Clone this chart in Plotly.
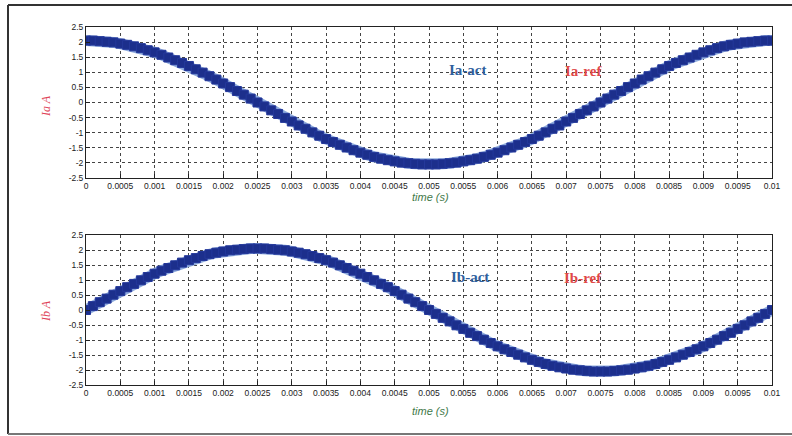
import plotly.graph_objects as go

# Sample times (s), one point every 0.1 ms over one 100 Hz period
time_s = [round(k * 0.0001, 4) for k in range(101)]

# Phase-a current (A)
ia_act = [2.05, 2.05, 2.03, 2.01, 1.99, 1.95, 1.91, 1.86, 1.80, 1.73, 1.66, 1.58, 1.49, 1.40, 1.31, 1.21, 1.10, 0.99, 0.87, 0.76, 0.63, 0.51, 0.38, 0.26, 0.13, 0.00,
          -0.13, -0.26, -0.38, -0.51, -0.63, -0.76, -0.87, -0.99, -1.10, -1.21, -1.31, -1.40, -1.49, -1.58, -1.66, -1.73, -1.80, -1.86, -1.91, -1.95, -1.99, -2.01, -2.03, -2.05, -2.05,
          -2.05, -2.03, -2.01, -1.99, -1.95, -1.91, -1.86, -1.80, -1.73, -1.66, -1.58, -1.49, -1.40, -1.31, -1.21, -1.10, -0.99, -0.87, -0.76, -0.63, -0.51, -0.38, -0.26, -0.13, 0.00,
          0.13, 0.26, 0.38, 0.51, 0.63, 0.76, 0.87, 0.99, 1.10, 1.21, 1.31, 1.40, 1.49, 1.58, 1.66, 1.73, 1.80, 1.86, 1.91, 1.95, 1.99, 2.01, 2.03, 2.05, 2.05]

# Phase-b current (A)
ib_act = [0.00, 0.13, 0.26, 0.38, 0.51, 0.63, 0.76, 0.87, 0.99, 1.10, 1.21, 1.31, 1.40, 1.49, 1.58, 1.66, 1.73, 1.80, 1.86, 1.91, 1.95, 1.99, 2.01, 2.03, 2.05, 2.05,
          2.05, 2.03, 2.01, 1.99, 1.95, 1.91, 1.86, 1.80, 1.73, 1.66, 1.58, 1.49, 1.40, 1.31, 1.21, 1.10, 0.99, 0.87, 0.76, 0.63, 0.51, 0.38, 0.26, 0.13, 0.00,
          -0.13, -0.26, -0.38, -0.51, -0.63, -0.76, -0.87, -0.99, -1.10, -1.21, -1.31, -1.40, -1.49, -1.58, -1.66, -1.73, -1.80, -1.86, -1.91, -1.95, -1.99, -2.01, -2.03, -2.05, -2.05,
          -2.05, -2.03, -2.01, -1.99, -1.95, -1.91, -1.86, -1.80, -1.73, -1.66, -1.58, -1.49, -1.40, -1.31, -1.21, -1.10, -0.99, -0.87, -0.76, -0.63, -0.51, -0.38, -0.26, -0.13, 0.00]

x_tickvals = [round(k * 0.0005, 4) for k in range(21)]
x_ticktext = ["0", "0.0005", "0.001", "0.0015", "0.002", "0.0025", "0.003", "0.0035", "0.004", "0.0045",
              "0.005", "0.0055", "0.006", "0.0065", "0.007", "0.0075", "0.008", "0.0085", "0.009", "0.0095", "0.01"]
y_tickvals = [2.5, 2, 1.5, 1, 0.5, 0, -0.5, -1, -1.5, -2, -2.5]
y_ticktext = ["2.5", "2", "1.5", "1", "0.5", "0", "-0.5", "-1", "-1.5", "-2", "-2.5"]

W, H = 792, 436
X_DOM = [86 / W, 772 / W]
TOP_DOM = [1 - 178 / H, 1 - 27 / H]
BOT_DOM = [1 - 385 / H, 1 - 235 / H]

fig = go.Figure()

def add_current(y, xa, ya):
    # light halo underneath, then the dark square markers on top
    fig.add_trace(go.Scatter(x=time_s, y=y, xaxis=xa, yaxis=ya, mode="lines",
                             line=dict(color="#8fabdd", width=11), hoverinfo="skip",
                             showlegend=False))
    fig.add_trace(go.Scatter(x=time_s, y=y, xaxis=xa, yaxis=ya, mode="lines+markers",
                             line=dict(color="#1c2f8c", width=6),
                             marker=dict(symbol="square", size=9, color="#1c2f8c",
                                         line=dict(color="#24389a", width=1)),
                             showlegend=False))

add_current(ia_act, "x", "y")
add_current(ib_act, "x2", "y2")

axis_common = dict(showline=True, linecolor="#222", linewidth=1, mirror=True,
                   showgrid=True, gridcolor="#444", griddash="dot", gridwidth=1,
                   ticks="inside", ticklen=4, tickcolor="#222", zeroline=False,
                   automargin=False,
                   tickfont=dict(family="Liberation Sans, Arial", size=8.5, color="#222"))

xaxis_cfg = dict(axis_common, range=[0, 0.01], tickvals=x_tickvals, ticktext=x_ticktext,
                 domain=X_DOM, tickangle=0)
yaxis_cfg = dict(axis_common, range=[-2.5, 2.5], tickvals=y_tickvals, ticktext=y_ticktext)

fig.update_layout(
    width=W, height=H,
    margin=dict(l=0, r=0, t=0, b=0, autoexpand=False),
    paper_bgcolor="white", plot_bgcolor="white",
    xaxis=dict(xaxis_cfg, anchor="y"),
    yaxis=dict(yaxis_cfg, domain=TOP_DOM, anchor="x"),
    xaxis2=dict(xaxis_cfg, anchor="y2"),
    yaxis2=dict(yaxis_cfg, domain=BOT_DOM, anchor="x2"),
)

def px(xp, yp):
    return xp / W, 1 - yp / H

annos = [
    ("time (s)", 430, 197, "#3f7a4a", "Liberation Sans, Arial", 11, True, False, 0),
    ("time (s)", 430, 411, "#3f7a4a", "Liberation Sans, Arial", 11, True, False, 0),
    ("Ia A", 46, 106, "#e0465a", "Liberation Serif, Times New Roman", 12, True, False, -90),
    ("Ib A", 46, 311, "#e0465a", "Liberation Serif, Times New Roman", 12, True, False, -90),
    ("Ia-act", 468, 70, "#2f5f9e", "Liberation Serif, Times New Roman", 15, False, True, 0),
    ("Ia-ref", 583, 71, "#e04848", "Liberation Serif, Times New Roman", 15, False, True, 0),
    ("Ib-act", 470, 277, "#2f5f9e", "Liberation Serif, Times New Roman", 15, False, True, 0),
    ("Ib-ref", 583, 278, "#e04848", "Liberation Serif, Times New Roman", 15, False, True, 0),
]
for text, xp, yp, color, family, size, italic, bold, angle in annos:
    xx, yy = px(xp, yp)
    t = text
    if bold:
        t = "<b>" + t + "</b>"
    if italic:
        t = "<i>" + t + "</i>"
    fig.add_annotation(x=xx, y=yy, xref="paper", yref="paper", text=t, showarrow=False,
                       font=dict(family=family, size=size, color=color),
                       xanchor="center", yanchor="middle", textangle=angle)

# outer frame: top, left and bottom edges (right side runs off the page)
fx0, fy0 = px(8, 5)
fx1, fy1 = px(792, 434)
frame = dict(color="#333", width=2)
fig.add_shape(type="line", xref="paper", yref="paper", x0=fx0, y0=fy0, x1=fx1, y1=fy0, line=frame)
fig.add_shape(type="line", xref="paper", yref="paper", x0=fx0, y0=fy0, x1=fx0, y1=fy1, line=frame)
fig.add_shape(type="line", xref="paper", yref="paper", x0=fx0, y0=fy1, x1=fx1, y1=fy1,
              line=dict(color="#777", width=2))

fig.write_html("out.html")
